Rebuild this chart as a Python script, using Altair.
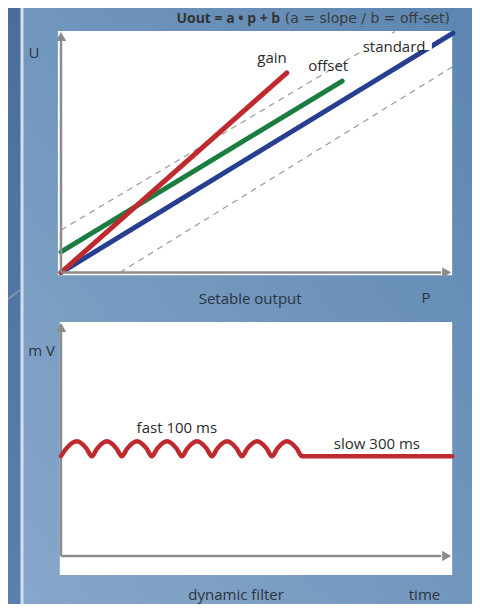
import altair as alt
import pandas as pd

W, H = 464, 596

# ---------------- top panel data (P vs U) ----------------
std_p = [0, 100.5]
std_u = [0, 61.4]
off_p = [0, 72.1]
off_u = [5.3, 49.1]
gain_p = [0, 57.9]
gain_u = [0, 51.2]
dash_hi_p = [0, 85.6]
dash_hi_u = [10.9, 61.8]
dash_lo_p = [15.1, 100.3]
dash_lo_u = [0, 52.7]

top_labels = ["gain", "offset", "standard"]
top_label_p = [54.1, 68.5, 85.4]
top_label_u = [55.0, 52.9, 57.8]

# ---------------- bottom panel data (time vs mV) ----------------
wave_t = [0, 1.4, 4.1, 6.5, 7.9, 9.3, 11.8, 14.2, 15.6, 17.0, 19.5, 21.9,
          23.3, 24.7, 27.2, 29.6, 31.0, 32.4, 34.9, 37.3, 38.7, 40.1, 42.6,
          45.0, 46.4, 47.8, 50.3, 52.7, 54.1, 55.5, 57.9, 60.4, 61.8, 100.3]
wave_v = [25.6, 27.6, 29.4, 27.6, 25.6, 27.6, 29.4, 27.6, 25.6, 27.6, 29.4, 27.6,
          25.6, 27.6, 29.4, 27.6, 25.6, 27.6, 29.4, 27.6, 25.6, 27.6, 29.4,
          27.6, 25.6, 27.6, 29.4, 27.6, 25.6, 27.6, 29.4, 27.6, 25.6, 25.6]

bot_labels = ["fast 100 ms", "slow 300 ms"]
bot_label_t = [29.7, 81.0]
bot_label_v = [32.8, 28.7]

# ---------------- scales ----------------
xs = alt.Scale(domain=[0, 100], range=[53, 443], nice=False, zero=False)
ys_top = alt.Scale(domain=[0, 61.8], range=[264.5, 23.5], nice=False, zero=False)
ys_bot = alt.Scale(domain=[0, 60], range=[548, 314], nice=False, zero=False)

RED = "#bf2a2f"
GREEN = "#1b7d40"
BLUE = "#26408f"
AXIS = "#8c8c8c"
TXT = "#2b2b2b"
FONT = "Open Sans"
FS = 15


def xq(f):
    return alt.X(f"{f}:Q", scale=xs, axis=None)


def yt(f):
    return alt.Y(f"{f}:Q", scale=ys_top, axis=None)


def yb(f):
    return alt.Y(f"{f}:Q", scale=ys_bot, axis=None)


one = pd.DataFrame({"a": [0]})

# ---------------- background decoration ----------------
bg = alt.Chart(one).mark_rect(
    color=alt.LinearGradient(
        gradient="linear",
        stops=[alt.GradientStop(color="#87a7ca", offset=0),
               alt.GradientStop(color="#5c86b0", offset=1)],
        x1=0, y1=1, x2=1, y2=0)
).encode(x=alt.value(14), x2=alt.value(W), y=alt.value(0), y2=alt.value(H))

strip = alt.Chart(one).mark_rect(
    color=alt.LinearGradient(
        gradient="linear",
        stops=[alt.GradientStop(color="#4a6d9d", offset=0),
               alt.GradientStop(color="#5a80b0", offset=1)],
        x1=0, y1=0, x2=0, y2=1)
).encode(x=alt.value(0), x2=alt.value(13), y=alt.value(0), y2=alt.value(H))

vline = alt.Chart(one).mark_rect(color="#d3dfee").encode(
    x=alt.value(12.5), x2=alt.value(15.5), y=alt.value(0), y2=alt.value(H))

diag = alt.Chart(one).mark_rule(color="#8f9aa6", strokeWidth=1.5).encode(
    x=alt.value(-8), x2=alt.value(12), y=alt.value(297), y2=alt.value(282))

# ---------------- top panel ----------------
tp = pd.DataFrame({"p": [-0.8], "p2": [100.3], "u": [-0.7], "u2": [61.9]})
top_panel = alt.Chart(tp).mark_rect(color="white").encode(
    x=xq("p"), x2="p2", y=yt("u"), y2="u2")


def seg(p, u, **kw):
    df = pd.DataFrame({"p": p, "u": u})
    return alt.Chart(df).mark_line(**kw).encode(x=xq("p"), y=yt("u"))


dash_hi = seg(dash_hi_p, dash_hi_u, color="#9a9a9a", strokeWidth=1.2, strokeDash=[6, 5])
dash_lo = seg(dash_lo_p, dash_lo_u, color="#9a9a9a", strokeWidth=1.2, strokeDash=[6, 5])
l_std = seg(std_p, std_u, color=BLUE, strokeWidth=5, strokeCap="round")
l_off = seg(off_p, off_u, color=GREEN, strokeWidth=5, strokeCap="round")
l_gain = seg(gain_p, gain_u, color=RED, strokeWidth=5, strokeCap="round")

# white label box behind "standard"
std_box = alt.Chart(pd.DataFrame({"p": [76.9], "p2": [95.1], "u": [57.05], "u2": [60.9]})).mark_rect(
    color="white").encode(x=xq("p"), x2="p2", y=yt("u"), y2="u2")

top_axes_df = pd.DataFrame({"p": [0, 0], "p2": [97.5, 0], "u": [0, 0], "u2": [0, 59.5]})
top_axes = alt.Chart(top_axes_df).mark_rule(color=AXIS, strokeWidth=2.5).encode(
    x=xq("p"), x2="p2", y=yt("u"), y2="u2")
top_arrow_r = alt.Chart(pd.DataFrame({"p": [98.9], "u": [0]})).mark_point(
    shape="triangle-right", filled=True, size=110, color=AXIS, opacity=1).encode(
    x=xq("p"), y=yt("u"))
top_arrow_u = alt.Chart(pd.DataFrame({"p": [0], "u": [60.5]})).mark_point(
    shape="triangle-up", filled=True, size=110, color=AXIS, opacity=1).encode(
    x=xq("p"), y=yt("u"))

top_text = alt.Chart(pd.DataFrame({"t": top_labels, "p": top_label_p, "u": top_label_u})).mark_text(
    font=FONT, fontSize=FS, color=TXT).encode(x=xq("p"), y=yt("u"), text="t:N")

outer_top = alt.Chart(pd.DataFrame({
    "t": ["U", "Setable output", "P"],
    "p": [-6.9, 48.5, 93.6],
    "u": [56.3, -6.7, -6.5]})).mark_text(
    font=FONT, fontSize=FS, color="#2c3440").encode(x=xq("p"), y=yt("u"), text="t:N")

title_bold = alt.Chart(pd.DataFrame({"t": ["Uout = a • p + b"], "p": [56.2], "u": [64.9]})).mark_text(
    font=FONT, fontSize=14, fontWeight="bold", color="#333333", align="right").encode(
    x=xq("p"), y=yt("u"), text="t:N")
title_reg = alt.Chart(pd.DataFrame({"t": ["(a = slope / b = off-set)"], "p": [57.4], "u": [64.9]})).mark_text(
    font="DejaVu Sans", fontSize=14, color="#3a3a3a", align="left").encode(
    x=xq("p"), y=yt("u"), text="t:N")

top = alt.layer(top_panel, dash_hi, dash_lo, l_std, l_off, l_gain, std_box, top_axes,
                top_arrow_r, top_arrow_u, top_text, outer_top, title_bold, title_reg)

# ---------------- bottom panel ----------------
bpd = pd.DataFrame({"t": [-0.3], "t2": [100.3], "v": [-4.9], "v2": [60]})
bot_panel = alt.Chart(bpd).mark_rect(color="white").encode(
    x=xq("t"), x2="t2", y=yb("v"), y2="v2")

bot_axes_df = pd.DataFrame({"t": [0, 0], "t2": [97.5, 0], "v": [0, 0], "v2": [0, 57.5]})
bot_axes = alt.Chart(bot_axes_df).mark_rule(color=AXIS, strokeWidth=2.5).encode(
    x=xq("t"), x2="t2", y=yb("v"), y2="v2")
bot_arrow_r = alt.Chart(pd.DataFrame({"t": [98.9], "v": [0]})).mark_point(
    shape="triangle-right", filled=True, size=110, color=AXIS, opacity=1).encode(
    x=xq("t"), y=yb("v"))
bot_arrow_u = alt.Chart(pd.DataFrame({"t": [0], "v": [58.6]})).mark_point(
    shape="triangle-up", filled=True, size=110, color=AXIS, opacity=1).encode(
    x=xq("t"), y=yb("v"))

wave = alt.Chart(pd.DataFrame({"t": wave_t, "v": wave_v})).mark_line(
    color=RED, strokeWidth=4.5, interpolate="monotone", strokeCap="round").encode(
    x=xq("t"), y=yb("v"))

bot_text = alt.Chart(pd.DataFrame({"s": bot_labels, "t": bot_label_t, "v": bot_label_v})).mark_text(
    font=FONT, fontSize=FS, color=TXT).encode(x=xq("t"), y=yb("v"), text="s:N")

outer_bot = alt.Chart(pd.DataFrame({
    "s": ["m V", "dynamic filter", "time"],
    "t": [-5.0, 44.9, 93.2],
    "v": [52.6, -10.0, -10.0]})).mark_text(
    font=FONT, fontSize=FS, color="#2c3440").encode(x=xq("t"), y=yb("v"), text="s:N")

bottom = alt.layer(bot_panel, bot_axes, bot_arrow_r, bot_arrow_u, wave, bot_text, outer_bot)

chart = alt.layer(bg, strip, vline, diag, top, bottom).resolve_scale(
    y="independent"
).properties(
    width=W, height=H,
    autosize=alt.AutoSizeParams(type="none"),
    padding=0,
    background="#6f93bb",
).configure_view(stroke=None)

chart.save("out.html", embed_options={"renderer": "svg", "actions": False})
